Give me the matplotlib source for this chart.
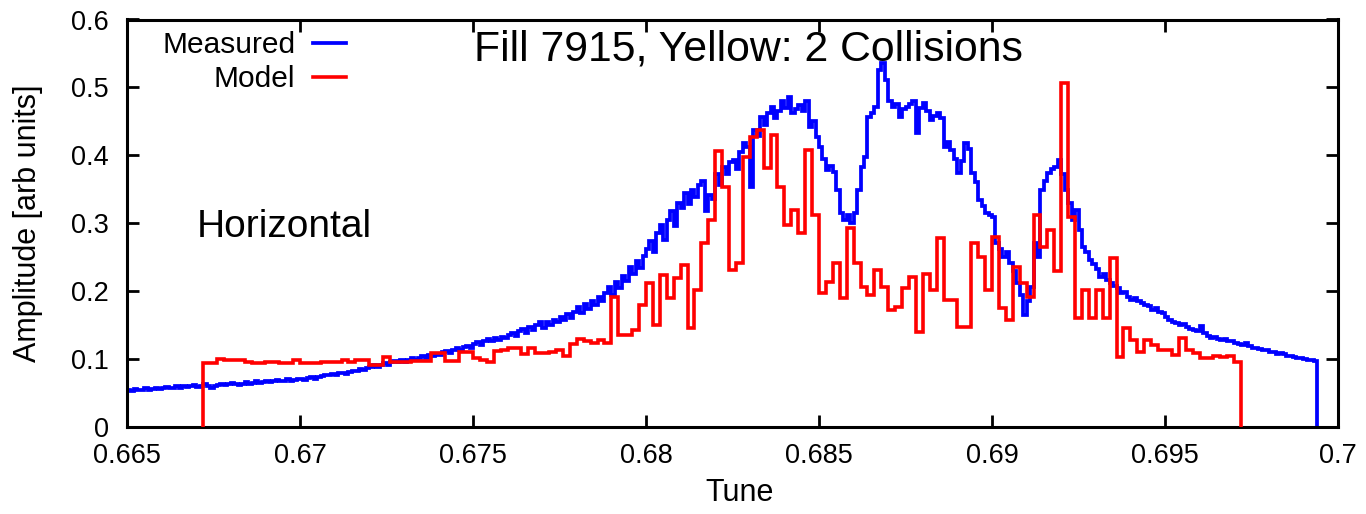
import numpy as np
import matplotlib
matplotlib.use("Agg")
import matplotlib.pyplot as plt

plt.rcParams['font.family'] = ['Liberation Sans', 'DejaVu Sans']

# ---------------- data ----------------
title = "Fill 7915, Yellow: 2 Collisions"
plane = "Horizontal"
series_names = ["Measured", "Model"]
x_label = "Tune"
y_label = "Amplitude [arb units]"
x_ticks = [0.665, 0.67, 0.675, 0.68, 0.685, 0.69, 0.695, 0.7]
x_tick_labels = ["0.665", "0.67", "0.675", "0.68", "0.685", "0.69", "0.695", "0.7"]
y_ticks = [0, 0.1, 0.2, 0.3, 0.4, 0.5, 0.6]
y_tick_labels = ["0", "0.1", "0.2", "0.3", "0.4", "0.5", "0.6"]

measured_start = 0.665
measured_bin = 0.0001
measured = [
    0.055, 0.053, 0.056, 0.054, 0.055, 0.057, 0.055, 0.056, 0.058, 0.056,
    0.057, 0.059, 0.057, 0.058, 0.060, 0.058, 0.061, 0.059, 0.060, 0.062,
    0.059, 0.061, 0.063, 0.060, 0.058, 0.061, 0.062, 0.064, 0.062, 0.063,
    0.065, 0.063, 0.062, 0.064, 0.066, 0.064, 0.065, 0.067, 0.065, 0.066,
    0.068, 0.066, 0.067, 0.069, 0.067, 0.068, 0.070, 0.068, 0.069, 0.070,
    0.071, 0.069, 0.072, 0.073, 0.071, 0.074, 0.075, 0.077, 0.076, 0.078,
    0.076, 0.079, 0.080, 0.078, 0.081, 0.083, 0.082, 0.086, 0.084, 0.087,
    0.088, 0.091, 0.089, 0.092, 0.094, 0.092, 0.095, 0.097, 0.095, 0.098,
    0.096, 0.099, 0.101, 0.099, 0.102, 0.104, 0.102, 0.106, 0.104, 0.108,
    0.106, 0.110, 0.112, 0.109, 0.114, 0.116, 0.113, 0.118, 0.120, 0.117,
    0.122, 0.125, 0.121, 0.127, 0.129, 0.126, 0.131, 0.128, 0.133, 0.131,
    0.136, 0.139, 0.134, 0.141, 0.144, 0.139, 0.147, 0.143, 0.150, 0.154,
    0.146, 0.155, 0.150, 0.158, 0.154, 0.162, 0.157, 0.166, 0.161, 0.170,
    0.176, 0.168, 0.181, 0.174, 0.186, 0.179, 0.192, 0.185, 0.198, 0.206,
    0.194, 0.213, 0.204, 0.222, 0.215, 0.236, 0.226, 0.245, 0.234, 0.252,
    0.262, 0.274, 0.258, 0.285, 0.298, 0.276, 0.305, 0.318, 0.296, 0.330,
    0.322, 0.345, 0.328, 0.349, 0.338, 0.356, 0.362, 0.318, 0.342, 0.336,
    0.372, 0.356, 0.383, 0.372, 0.390, 0.393, 0.380, 0.405, 0.418, 0.412,
    0.353, 0.437, 0.428, 0.457, 0.445, 0.462, 0.471, 0.455, 0.466, 0.480,
    0.470, 0.486, 0.462, 0.468, 0.474, 0.465, 0.480, 0.442, 0.450, 0.427,
    0.412, 0.395, 0.378, 0.385, 0.375, 0.349, 0.315, 0.305, 0.312, 0.300,
    0.315, 0.349, 0.383, 0.398, 0.457, 0.462, 0.471, 0.526, 0.536, 0.511,
    0.480, 0.471, 0.475, 0.457, 0.468, 0.471, 0.476, 0.480, 0.433, 0.470,
    0.477, 0.465, 0.452, 0.458, 0.462, 0.455, 0.412, 0.420, 0.408, 0.395,
    0.374, 0.392, 0.418, 0.410, 0.374, 0.360, 0.334, 0.325, 0.315, 0.312,
    0.309, 0.271, 0.262, 0.250, 0.258, 0.241, 0.230, 0.212, 0.195, 0.165,
    0.185, 0.206, 0.271, 0.250, 0.349, 0.362, 0.374, 0.380, 0.383, 0.393,
    0.372, 0.349, 0.330, 0.305, 0.320, 0.290, 0.265, 0.258, 0.246, 0.240,
    0.232, 0.221, 0.225, 0.216, 0.212, 0.208, 0.204, 0.197, 0.199, 0.192,
    0.187, 0.190, 0.185, 0.183, 0.180, 0.178, 0.172, 0.175, 0.170, 0.168,
    0.162, 0.157, 0.155, 0.153, 0.150, 0.151, 0.147, 0.145, 0.143, 0.141,
    0.149, 0.138, 0.134, 0.131, 0.132, 0.129, 0.128, 0.130, 0.127, 0.126,
    0.124, 0.122, 0.121, 0.123, 0.119, 0.117, 0.116, 0.115, 0.113, 0.114,
    0.111, 0.110, 0.108, 0.109, 0.107, 0.105, 0.104, 0.103, 0.102, 0.101,
    0.100, 0.099, 0.098, 0.097,
]

model_start = 0.6672
model_bin = 0.0002
model = [
    0.094, 0.094, 0.100, 0.099, 0.098, 0.098, 0.095, 0.094, 0.094, 0.095,
    0.095, 0.094, 0.094, 0.099, 0.094, 0.094, 0.094, 0.096, 0.095, 0.095,
    0.098, 0.095, 0.098, 0.098, 0.092, 0.092, 0.103, 0.095, 0.095, 0.095,
    0.097, 0.097, 0.097, 0.109, 0.109, 0.097, 0.097, 0.111, 0.111, 0.101,
    0.099, 0.096, 0.112, 0.113, 0.116, 0.116, 0.108, 0.116, 0.109, 0.109,
    0.110, 0.113, 0.105, 0.122, 0.130, 0.127, 0.124, 0.128, 0.124, 0.192,
    0.135, 0.135, 0.143, 0.180, 0.212, 0.150, 0.224, 0.190, 0.219, 0.238,
    0.146, 0.202, 0.271, 0.305, 0.406, 0.353, 0.231, 0.241, 0.398, 0.427,
    0.437, 0.381, 0.430, 0.353, 0.297, 0.320, 0.286, 0.408, 0.312, 0.197,
    0.213, 0.241, 0.190, 0.293, 0.241, 0.206, 0.194, 0.231, 0.206, 0.172,
    0.177, 0.205, 0.221, 0.140, 0.225, 0.202, 0.278, 0.187, 0.187, 0.147,
    0.147, 0.271, 0.250, 0.202, 0.280, 0.175, 0.158, 0.236, 0.212, 0.192,
    0.312, 0.265, 0.290, 0.229, 0.507, 0.309, 0.160, 0.202, 0.160, 0.202,
    0.160, 0.249, 0.103, 0.146, 0.128, 0.110, 0.128, 0.121, 0.113, 0.113,
    0.106, 0.131, 0.113, 0.109, 0.102, 0.102, 0.105, 0.103, 0.105, 0.096,
]

# ---------------- figure ----------------
W, H = 1366, 514
fig = plt.figure(figsize=(W / 100, H / 100), dpi=100)
ax_l, ax_r, ax_t, ax_b = 127, 1338, 19.5, 427
ax = fig.add_axes([ax_l / W, 1 - ax_b / H, (ax_r - ax_l) / W, (ax_b - ax_t) / H])

measured_edges = measured_start + measured_bin * np.arange(len(measured) + 1)
model_edges = model_start + model_bin * np.arange(len(model) + 1)

ax.stairs(measured, measured_edges, baseline=0, color='#0000ff', lw=2.7,
          label=series_names[0], zorder=2)
ax.stairs(model, model_edges, baseline=0, color='#ff0000', lw=2.6,
          label=series_names[1], zorder=3)

ax.set_xlim(0.665, 0.7)
ax.set_ylim(0, 0.6)
ax.set_xticks(x_ticks)
ax.set_xticklabels(x_tick_labels)
ax.set_yticks(y_ticks)
ax.set_yticklabels(y_tick_labels)
ax.tick_params(axis='both', direction='in', length=8.6, width=2.0,
               top=True, right=True, labelsize=19.5, colors='black')
ax.tick_params(axis='x', pad=11.5)
ax.tick_params(axis='y', pad=13)
for s in ax.spines.values():
    s.set_linewidth(2.2)
    s.set_color('black')

# title and annotation inside the plot
ax.text((748.5 - ax_l) / (ax_r - ax_l), (ax_b - 60) / (ax_b - ax_t), title,
        transform=ax.transAxes, ha='center', va='baseline', fontsize=30.8)
ax.text((197 - ax_l) / (ax_r - ax_l), (ax_b - 237) / (ax_b - ax_t), plane,
        transform=ax.transAxes, ha='left', va='baseline', fontsize=28)

# legend (gnuplot style: right-aligned text, sample to the right)
leg = ax.legend(loc='upper right',
                bbox_to_anchor=((346 - ax_l) / (ax_r - ax_l), (ax_b - 31) / (ax_b - ax_t)),
                markerfirst=False, frameon=False, fontsize=21.5,
                handlelength=1.1, handletextpad=0.6, labelspacing=0.2,
                borderpad=0, borderaxespad=0)

fig.text(28 / W, 1 - 223 / H, y_label, rotation=90, ha='center', va='center', fontsize=22)
fig.text(740 / W, 1 - 493 / H, x_label, ha='center', va='center', fontsize=22)

fig.savefig("out.png", dpi=100)
